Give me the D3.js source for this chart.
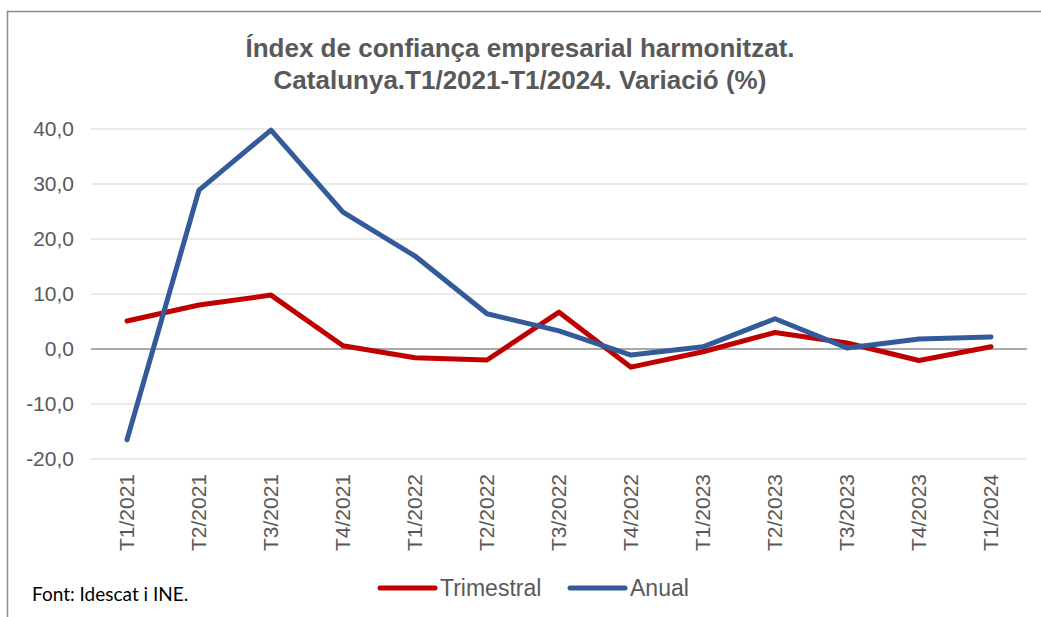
<!DOCTYPE html>
<html><head><meta charset="utf-8">
<script src="https://cdn.jsdelivr.net/npm/d3@7"></script>
<style>body{margin:0;background:#fff}svg{display:block}</style>
</head><body>
<svg id="c" width="1041" height="617"></svg>
<script>
const categories = ["T1/2021","T2/2021","T3/2021","T4/2021","T1/2022","T2/2022","T3/2022","T4/2022","T1/2023","T2/2023","T3/2023","T4/2023","T1/2024"];
const trimestral = [5.1, 8.0, 9.8, 0.6, -1.6, -2.0, 6.7, -3.3, -0.5, 3.0, 1.1, -2.1, 0.4];
const anual = [-16.5, 28.9, 39.8, 24.9, 16.9, 6.4, 3.3, -1.1, 0.4, 5.5, 0.2, 1.8, 2.2];
const yTicks = [-20, -10, 0, 10, 20, 30, 40];
const seriesNames = ["Trimestral", "Anual"];
const colors = ["#C00000", "#335A9B"];
const titleLines = ["Índex de confiança empresarial harmonitzat.", "Catalunya.T1/2021-T1/2024. Variació (%)"];
const source = "Font: Idescat i INE.";

const svg = d3.select("#c");
// border (top and left)
svg.append("path").attr("d","M7.5,617 V11.5 H1041").attr("fill","none").attr("stroke","#8c8c8c").attr("stroke-width",1.5);

const x = d3.scaleBand().domain(categories).range([91, 1027]);
const y = d3.scaleLinear().domain([-20, 40]).range([459, 129]);

// gridlines
svg.append("g").selectAll("line").data(yTicks).join("line")
  .attr("x1", 91).attr("x2", 1027)
  .attr("y1", d => y(d)).attr("y2", d => y(d))
  .attr("stroke", d => d === 0 ? "#8c8c8c" : "#e3e3e3")
  .attr("stroke-width", 1.5);

// y axis labels
const yAxis = d3.axisLeft(y).tickValues(yTicks).tickSize(0).tickPadding(0)
  .tickFormat(d => d3.format(".1f")(d).replace(".", ",").replace("−","-"));
const yg = svg.append("g").attr("transform","translate(74,0)").call(yAxis);
yg.select(".domain").remove();
yg.selectAll("text").attr("font-family","Liberation Sans, Arial, sans-serif").attr("font-size",21).attr("fill","#595959");

// x axis labels
const xAxis = d3.axisBottom(x).tickSize(0).tickPadding(0);
const xg = svg.append("g").attr("transform","translate(0,474)").call(xAxis);
xg.select(".domain").remove();
xg.selectAll("text")
  .attr("font-family","Liberation Sans, Arial, sans-serif").attr("font-size",21).attr("fill","#595959")
  .attr("text-anchor","end").attr("dy","0.35em").attr("y",0).attr("x",0)
  .attr("transform","rotate(-90)");

// lines
const line = d3.line().x((d,i) => x(categories[i]) + x.bandwidth()/2).y(d => y(d));
[trimestral, anual].forEach((s, k) => {
  svg.append("path").datum(s).attr("d", line).attr("fill","none")
    .attr("stroke", colors[k]).attr("stroke-width", 5).attr("stroke-linejoin","round").attr("stroke-linecap","round");
});

// title
svg.append("g").selectAll("text").data(titleLines).join("text")
  .attr("x", 520).attr("y", (d,i) => 57 + i*32)
  .attr("text-anchor","middle").attr("font-family","Liberation Sans, Arial, sans-serif")
  .attr("font-weight","bold").attr("font-size",26).attr("fill","#595959")
  .text(d => d);

// legend
const legX = [380, 570];
seriesNames.forEach((n, k) => {
  svg.append("line").attr("x1", legX[k]).attr("x2", legX[k] + 55).attr("y1", 588).attr("y2", 588)
    .attr("stroke", colors[k]).attr("stroke-width", 5).attr("stroke-linecap","round");
  svg.append("text").attr("x", legX[k] + 60).attr("y", 596)
    .attr("font-family","Liberation Sans, Arial, sans-serif").attr("font-size",23).attr("fill","#595959").text(n);
});

// source
svg.append("text").attr("x", 32).attr("y", 601).attr("font-family","Lato, sans-serif").attr("font-size",19).attr("fill","#000").text(source);
</script>
</body></html>
